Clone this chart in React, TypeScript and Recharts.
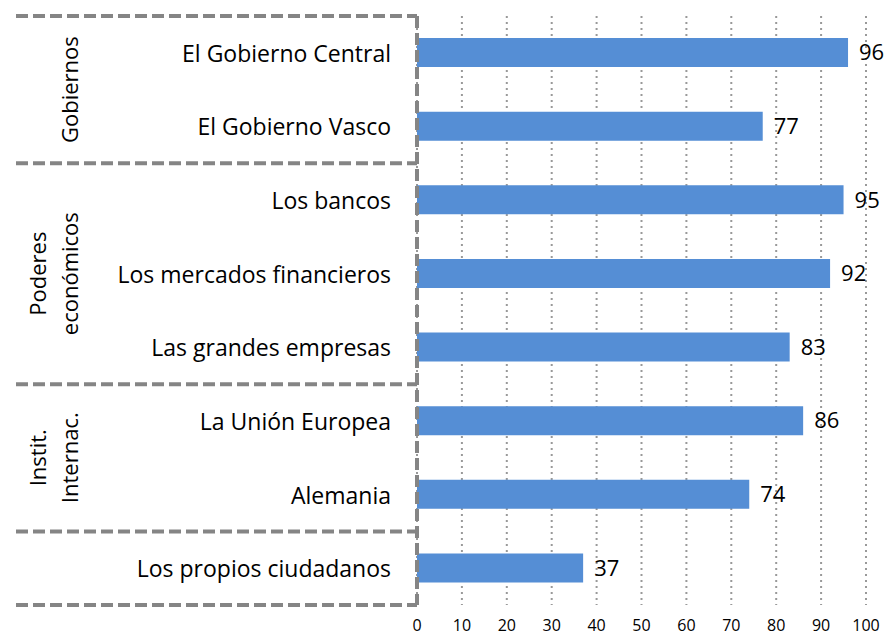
import { BarChart, Bar, XAxis, YAxis, CartesianGrid, LabelList } from 'recharts';

const categories = [
  'El Gobierno Central',
  'El Gobierno Vasco',
  'Los bancos',
  'Los mercados financieros',
  'Las grandes empresas',
  'La Unión Europea',
  'Alemania',
  'Los propios ciudadanos',
];
const values = [96, 77, 95, 92, 83, 86, 74, 37];
const groupLabels = [['Gobiernos'], ['Poderes', 'económicos'], ['Instit.', 'Internac.'], []];
const groupSizes = [2, 3, 2, 1];
const xTicks = [0, 10, 20, 30, 40, 50, 60, 70, 80, 90, 100];

const data = categories.map((name, i) => ({ name, value: values[i] }));

const W = 888;
const H = 637;
const TOP = 16;
const BOTTOM_AXIS = 32;
const AXIS_W = 417;
const BAND = (H - TOP - BOTTOM_AXIS) / categories.length;
const FONT = '"Open Sans", sans-serif';
const GRAY = '#858585';

// first index of each group
const groupStart: number[] = [];
groupSizes.reduce((acc, n) => {
  groupStart.push(acc);
  return acc + n;
}, 0);

function CategoryTick(props: any) {
  const { x, y, payload, index } = props;
  const g = groupStart.indexOf(index);
  const lineTop = y - BAND / 2;
  const isLast = index === categories.length - 1;
  return (
    <g>
      <text x={x} y={y} textAnchor="end" dominantBaseline="central" fontSize={23} fontFamily={FONT} fill="#000">
        {payload.value}
      </text>
      {g >= 0 && (
        <line x1={16} x2={AXIS_W} y1={lineTop} y2={lineTop} stroke={GRAY} strokeWidth={4} strokeDasharray="12 5" />
      )}
      {isLast && (
        <line x1={16} x2={AXIS_W} y1={y + BAND / 2} y2={y + BAND / 2} stroke={GRAY} strokeWidth={4} strokeDasharray="12 5" />
      )}
      {g >= 0 &&
        groupLabels[g].map((line, k) => {
          const n = groupLabels[g].length;
          const cx = n === 1 ? 69 : 37 + k * 32;
          const cy = y + ((groupSizes[g] - 1) * BAND) / 2;
          return (
            <text
              key={k}
              x={cx}
              y={cy}
              textAnchor="middle"
              dominantBaseline="central"
              fontSize={22}
              fontFamily={FONT}
              fill="#000"
              transform={`rotate(-90, ${cx}, ${cy})`}
            >
              {line}
            </text>
          );
        })}
    </g>
  );
}

export default function App() {
  return (
    <div style={{ position: 'absolute', left: 0, top: 0, background: '#fff' }}>
      <BarChart
        width={W}
        height={H}
        data={data}
        layout="vertical"
        margin={{ top: TOP, right: 22, bottom: 0, left: 0 }}
        barCategoryGap={0}
      >
        <CartesianGrid horizontal={false} stroke="#999" strokeWidth={2} strokeDasharray="2 4" />
        <XAxis
          type="number"
          domain={[0, 100]}
          ticks={xTicks}
          axisLine={false}
          tickLine={false}
          tickSize={0}
          tickMargin={15}
          height={BOTTOM_AXIS}
          interval={0}
          tick={{ fontSize: 16, fontFamily: FONT, fill: '#000' }}
        />
        <YAxis
          type="category"
          dataKey="name"
          width={AXIS_W}
          axisLine={{ stroke: GRAY, strokeWidth: 4, strokeDasharray: '12 5' }}
          tickLine={false}
          tickSize={0}
          tickMargin={26}
          interval={0}
          tick={<CategoryTick />}
        />
        <Bar dataKey="value" fill="#558ED5" barSize={29} isAnimationActive={false}>
          <LabelList dataKey="value" position="right" offset={11} fontSize={22} fontFamily={FONT} fill="#000" />
        </Bar>
      </BarChart>
    </div>
  );
}
